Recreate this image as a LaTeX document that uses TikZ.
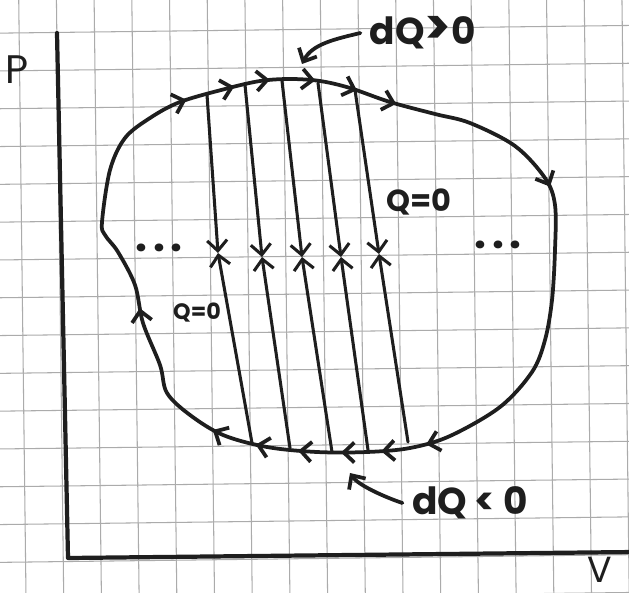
\documentclass[tikz,border=0pt]{standalone}
\usepackage{fontspec}
\setmainfont{Poppins}
\usetikzlibrary{arrows.meta,decorations.markings}
\definecolor{inkBlack}{HTML}{1E1E1E}
\definecolor{gridGray}{HTML}{ABABAB}

\begin{document}
\begin{tikzpicture}[
  x=0.03cm, y=-0.03cm,
  >={Straight Barb[length=9pt,width=17pt]},
  gridline/.style={draw=gridGray,line width=0.9pt},
  axis/.style={draw=inkBlack,line width=3.6pt,line cap=round,line join=round},
  cycleline/.style={draw=inkBlack,line width=3.2pt,line join=round,postaction={decorate},
    decoration={markings,
      mark=at position 0.081 with {\arrow{>}},
      mark=at position 0.118 with {\arrow{>}},
      mark=at position 0.145 with {\arrow{>}},
      mark=at position 0.179 with {\arrow{>}},
      mark=at position 0.211 with {\arrow{>}},
      mark=at position 0.242 with {\arrow{>}},
      mark=at position 0.377 with {\arrow{>}},
      mark=at position 0.616 with {\arrow{>}},
      mark=at position 0.650 with {\arrow{>}},
      mark=at position 0.680 with {\arrow{>}},
      mark=at position 0.712 with {\arrow{>}},
      mark=at position 0.744 with {\arrow{>}},
      mark=at position 0.778 with {\arrow{>}},
      mark=at position 0.889 with {\arrow{>}}}},
  adiabat/.style={->,draw=inkBlack,line width=2.6pt,line cap=round},
  pointer/.style={->,draw=inkBlack,line width=3.2pt,line cap=round},
  handlabel/.style={text=inkBlack,inner sep=0pt,font=\bfseries\fontsize{32}{34}\selectfont},
  qlabel/.style={text=inkBlack,inner sep=0pt,font=\bfseries\fontsize{26}{28}\selectfont},
  axislabel/.style={text=inkBlack,inner sep=0pt,font=\fontsize{34}{36}\selectfont},
  dotrow/.style={text=inkBlack,inner sep=0pt,font=\bfseries\fontsize{36}{38}\selectfont}
]
\useasboundingbox (0,0) rectangle (629,592);
\path[fill=white] (0,0) rectangle (629,592);

% papel cuadriculado, algo girado
\begin{scope}
  \clip (0,0) rectangle (629,592);
  \begin{scope}[rotate around={0.7:(315,300)}]
    \foreach \k in {-1,...,17}
      \draw[gridline] ({22.4+37.7*\k},-40) -- ({22.4+37.7*\k},640);
    \foreach \k in {-1,...,16}
      \draw[gridline] (-40,{558.5-37.8*\k}) -- (670,{558.5-37.8*\k});
  \end{scope}
\end{scope}

% ejes
\coordinate (ptop) at (57,33);
\coordinate (origin) at (68,558);
\coordinate (vend) at (634,552);
\draw[axis] (ptop) -- (origin) -- (vend);
\node[axislabel] (plabel) at (17,70) {P};
\node[axislabel,font=\fontsize{31}{33}\selectfont,anchor=base] (vlabel) at (600,582) {V};

% ciclo
\draw[cycleline] plot[smooth cycle,tension=0.55] coordinates {
  (102,222) (110,170) (125,138) (150,118) (180,102) (225,89) (260,81) (290,79)
  (320,81) (350,88) (390,102) (435,114) (470,123) (515,146) (545,178) (555,205)
  (555,250) (552,300) (545,340) (532,372) (500,407) (450,436) (410,448) (367,452)
  (317,452) (267,447) (223,435) (190,415) (167,393) (160,365) (143,323) (135,285)
  (118,252) (105,235)};

% adiabatas
\coordinate (top1) at (207,95);  \coordinate (mid1) at (218,253); \coordinate (bot1) at (252,443);
\coordinate (top2) at (245,85);  \coordinate (mid2) at (262,257); \coordinate (bot2) at (290,448);
\coordinate (top3) at (282,81);  \coordinate (mid3) at (302,257); \coordinate (bot3) at (332,452);
\coordinate (top4) at (318,83);  \coordinate (mid4) at (341,257); \coordinate (bot4) at (368,450);
\coordinate (top5) at (355,90);  \coordinate (mid5) at (379,254); \coordinate (bot5) at (408,442);
\foreach \i in {1,...,5} {
  \draw[adiabat] (top\i) -- (mid\i);
  \draw[adiabat] (bot\i) -- (mid\i);
}

\node[dotrow] (dotsleft) at (159,248) {.\hspace{5pt}.\hspace{5pt}.};
\node[dotrow] (dotsright) at (498,245) {.\hspace{5pt}.\hspace{5pt}.};

\node[qlabel] (qzeroup) at (419,202) {Q=0};
\node[qlabel,font=\bfseries\fontsize{19}{21}\selectfont] (qzerolow) at (197,313) {Q=0};

% calor absorbido y cedido
\node[handlabel] (dqplus) at (423,33) {dQ{\fontsize{42}{42}\selectfont>}0};
\node[handlabel] (dqminus) at (470,503) {dQ < 0};
\coordinate (heatin) at (302,64);
\coordinate (heatout) at (350,473);
\draw[pointer] ([xshift=-8pt]dqplus.west) .. controls +(-25,6) and +(10,-20) .. (heatin);
\draw[pointer] ([xshift=-8pt]dqminus.west) .. controls +(-18,-6) and +(8,12) .. (heatout);
\end{tikzpicture}
\end{document}
